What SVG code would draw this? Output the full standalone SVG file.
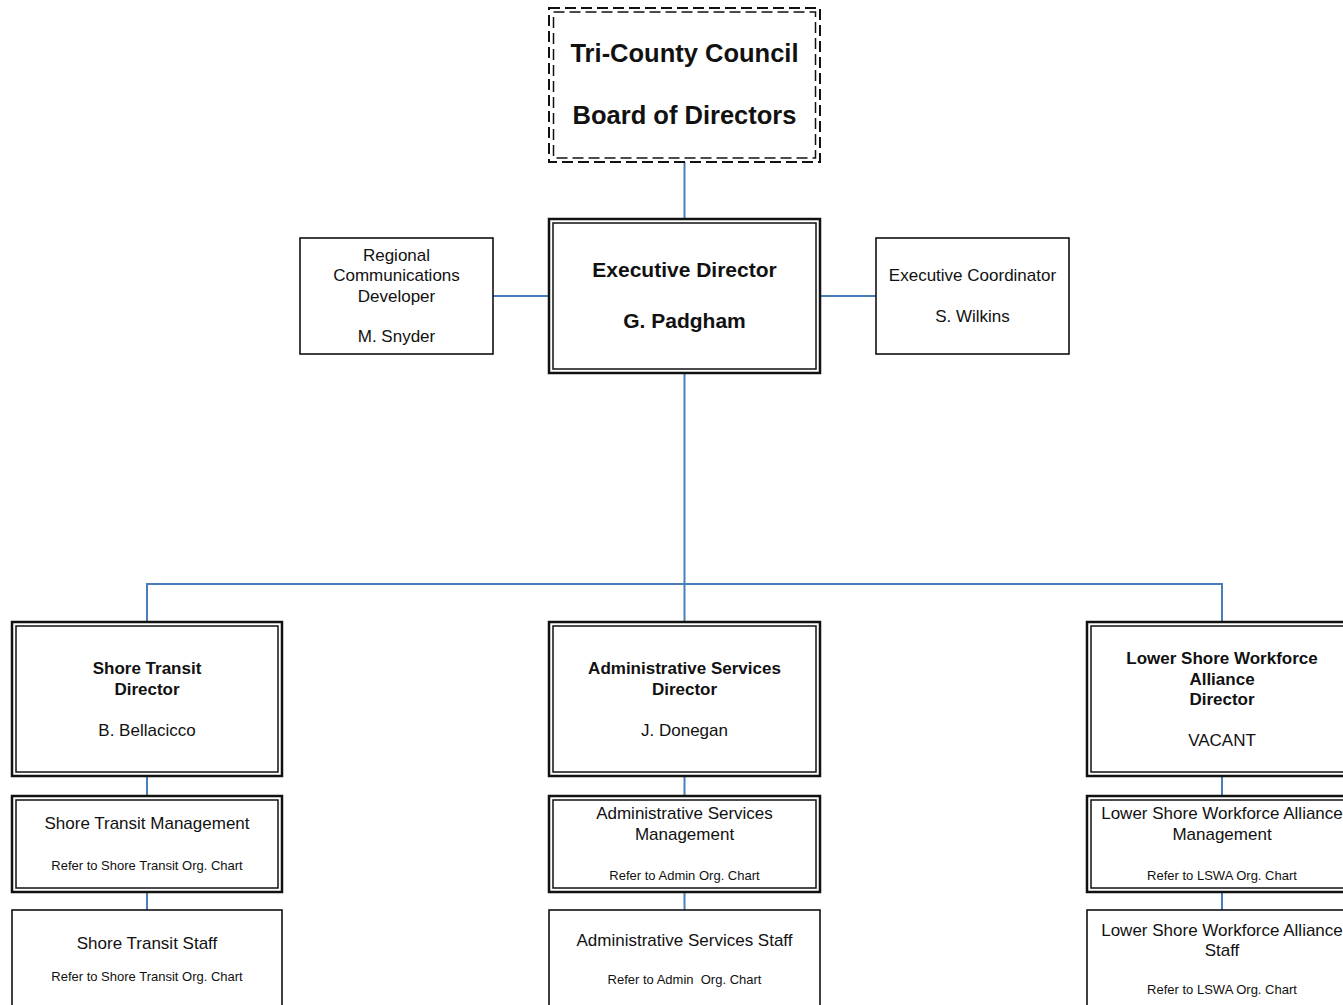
<svg xmlns="http://www.w3.org/2000/svg" width="1343" height="1005" viewBox="0 0 1343 1005">
<style>
text{font-family:"Liberation Sans",Arial,sans-serif;fill:#111;text-anchor:middle}
.b{font-weight:bold}
.t1{font-size:25.5px}
.t2{font-size:21px}
.t3{font-size:17px}
.t4{font-size:13px}
.o{fill:#fff;stroke:#111;stroke-width:2.5}
.i{fill:none;stroke:#111;stroke-width:1.5}
.s{fill:#fff;stroke:#111;stroke-width:1.6}
.d{fill:#fff;stroke:#111;stroke-width:2;stroke-dasharray:11 5}
.di{fill:none;stroke:#111;stroke-width:1.5;stroke-dasharray:11 5}
.c{stroke:#4A7EBB;stroke-width:2;fill:none}
</style>
<rect width="1343" height="1005" fill="#fff"/>
<g id="connectors">
<line class="c" x1="684.5" y1="162" x2="684.5" y2="219"/>
<line class="c" x1="493" y1="296" x2="549" y2="296"/>
<line class="c" x1="820" y1="296" x2="876" y2="296"/>
<line class="c" x1="684.5" y1="373" x2="684.5" y2="622"/>
<polyline class="c" points="147,622 147,584 1222,584 1222,622"/>
<line class="c" x1="147" y1="776" x2="147" y2="796"/>
<line class="c" x1="147" y1="892" x2="147" y2="910"/>
<line class="c" x1="684.5" y1="776" x2="684.5" y2="796"/>
<line class="c" x1="684.5" y1="892" x2="684.5" y2="910"/>
<line class="c" x1="1222" y1="776" x2="1222" y2="796"/>
<line class="c" x1="1222" y1="892" x2="1222" y2="910"/>
</g>
<g id="board">
<rect class="d" x="549" y="8" width="271" height="154"/>
<rect class="di" x="553.5" y="12" width="262" height="146"/>
<text class="b t1" x="684.5" y="62">Tri-County Council</text>
<text class="b t1" x="684.5" y="124">Board of Directors</text>
</g>
<g id="exec">
<rect class="o" x="549" y="219" width="271" height="154"/>
<rect class="i" x="553" y="223" width="263" height="146"/>
<text class="b t2" x="684.5" y="277">Executive Director</text>
<text class="b t2" x="684.5" y="328">G. Padgham</text>
</g>
<g id="regional">
<rect class="s" x="300" y="238" width="193" height="116"/>
<text class="t3" x="396.5" y="261">Regional</text>
<text class="t3" x="396.5" y="281">Communications</text>
<text class="t3" x="396.5" y="302">Developer</text>
<text class="t3" x="396.5" y="342">M. Snyder</text>
</g>
<g id="coordinator">
<rect class="s" x="876" y="238" width="193" height="116"/>
<text class="t3" x="972.5" y="281">Executive Coordinator</text>
<text class="t3" x="972.5" y="322">S. Wilkins</text>
</g>
<g id="st-director">
<rect class="o" x="12" y="622" width="270" height="154"/>
<rect class="i" x="16" y="626" width="262" height="146"/>
<text class="b t3" x="147" y="674">Shore Transit</text>
<text class="b t3" x="147" y="695">Director</text>
<text class="t3" x="147" y="736">B. Bellacicco</text>
</g>
<g id="st-mgmt">
<rect class="o" x="12" y="796" width="270" height="96"/>
<rect class="i" x="16" y="800" width="262" height="88"/>
<text class="t3" x="147" y="829">Shore Transit Management</text>
<text class="t4" x="147" y="870">Refer to Shore Transit Org. Chart</text>
</g>
<g id="st-staff">
<rect class="s" x="12" y="910" width="270" height="110"/>
<text class="t3" x="147" y="949">Shore Transit Staff</text>
<text class="t4" x="147" y="981">Refer to Shore Transit Org. Chart</text>
</g>
<g id="as-director">
<rect class="o" x="549" y="622" width="271" height="154"/>
<rect class="i" x="553" y="626" width="263" height="146"/>
<text class="b t3" x="684.5" y="674">Administrative Services</text>
<text class="b t3" x="684.5" y="695">Director</text>
<text class="t3" x="684.5" y="736">J. Donegan</text>
</g>
<g id="as-mgmt">
<rect class="o" x="549" y="796" width="271" height="96"/>
<rect class="i" x="553" y="800" width="263" height="88"/>
<text class="t3" x="684.5" y="819">Administrative Services</text>
<text class="t3" x="684.5" y="840">Management</text>
<text class="t4" x="684.5" y="880">Refer to Admin Org. Chart</text>
</g>
<g id="as-staff">
<rect class="s" x="549" y="910" width="271" height="110"/>
<text class="t3" x="684.5" y="946">Administrative Services Staff</text>
<text class="t4" x="684.5" y="984" xml:space="preserve">Refer to Admin  Org. Chart</text>
</g>
<g id="lswa-director">
<rect class="o" x="1087" y="622" width="270" height="154"/>
<rect class="i" x="1091" y="626" width="262" height="146"/>
<text class="b t3" x="1222" y="664">Lower Shore Workforce</text>
<text class="b t3" x="1222" y="685">Alliance</text>
<text class="b t3" x="1222" y="705">Director</text>
<text class="t3" x="1222" y="746">VACANT</text>
</g>
<g id="lswa-mgmt">
<rect class="o" x="1087" y="796" width="270" height="96"/>
<rect class="i" x="1091" y="800" width="262" height="88"/>
<text class="t3" x="1222" y="819">Lower Shore Workforce Alliance</text>
<text class="t3" x="1222" y="840">Management</text>
<text class="t4" x="1222" y="880">Refer to LSWA Org. Chart</text>
</g>
<g id="lswa-staff">
<rect class="s" x="1087" y="910" width="270" height="110"/>
<text class="t3" x="1222" y="936">Lower Shore Workforce Alliance</text>
<text class="t3" x="1222" y="956">Staff</text>
<text class="t4" x="1222" y="994">Refer to LSWA Org. Chart</text>
</g>
</svg>
